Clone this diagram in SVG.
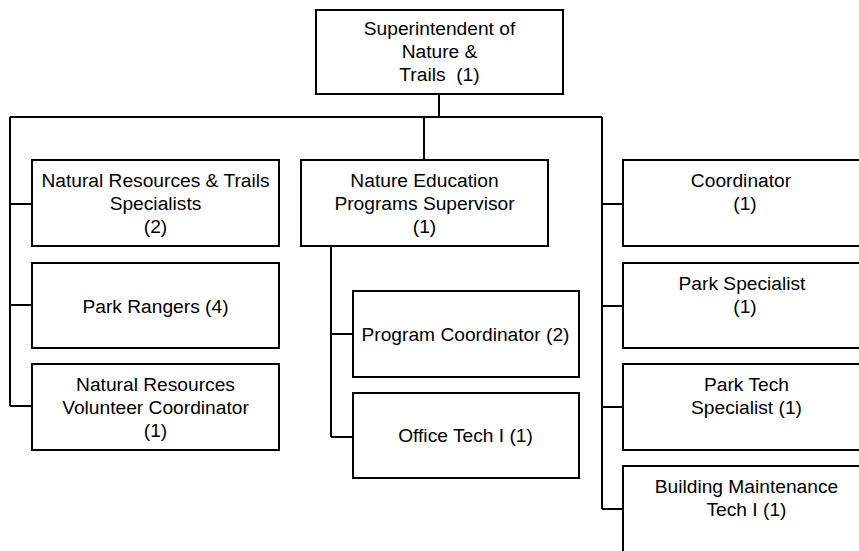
<svg xmlns="http://www.w3.org/2000/svg" width="859" height="551" viewBox="0 0 859 551">
<style>
rect{fill:#fff;stroke:#000;stroke-width:2}
#connectors path{fill:none;stroke:#000;stroke-width:2}
text{font-family:"Liberation Sans",Arial,sans-serif;font-size:19.2px;fill:#000;text-anchor:middle}
</style>
<rect x="0" y="0" width="859" height="551" style="stroke:none"/>
<g id="connectors">
<path d="M439 94V117M10 117H602M424 117V160"/>
<path d="M10 117V406M10 204H32M10 305H32M10 406H32"/>
<path d="M602 117V509M602 204H623M602 306H623M602 407H623M602 509H623"/>
<path d="M331 246V437M331 334H353M331 437H353"/>
</g>
<g id="superintendent"><rect x="316" y="10" width="247" height="84"/>
<text x="439.5" y="35">Superintendent of</text><text x="439.5" y="58">Nature &amp;</text><text x="439.5" y="81">Trails&#160; (1)</text></g>
<g id="nr-specialists"><rect x="32" y="160" width="247" height="86"/>
<text x="155.5" y="187">Natural Resources &amp; Trails</text><text x="155.5" y="210">Specialists</text><text x="155.5" y="233">(2)</text></g>
<g id="park-rangers"><rect x="32" y="263" width="247" height="85"/>
<text x="155.5" y="313">Park Rangers (4)</text></g>
<g id="nr-volunteer"><rect x="32" y="364" width="247" height="86"/>
<text x="155.5" y="391">Natural Resources</text><text x="155.5" y="414">Volunteer Coordinator</text><text x="155.5" y="437">(1)</text></g>
<g id="nature-ed"><rect x="301" y="160" width="247" height="86"/>
<text x="424.5" y="187">Nature Education</text><text x="424.5" y="210">Programs Supervisor</text><text x="424.5" y="233">(1)</text></g>
<g id="program-coord"><rect x="353" y="291" width="226" height="86"/>
<text x="465.5" y="341">Program Coordinator (2)</text></g>
<g id="office-tech"><rect x="353" y="393" width="226" height="85"/>
<text x="465.5" y="442">Office Tech I (1)</text></g>
<g id="coordinator"><rect x="623" y="160" width="247" height="86"/>
<text x="741" y="187">Coordinator</text><text x="745" y="210">(1)</text></g>
<g id="park-specialist"><rect x="623" y="263" width="247" height="85"/>
<text x="742" y="290">Park Specialist</text><text x="745" y="313">(1)</text></g>
<g id="park-tech"><rect x="623" y="364" width="247" height="86"/>
<text x="746.5" y="391">Park Tech</text><text x="746.5" y="414">Specialist (1)</text></g>
<g id="building-maint"><rect x="623" y="466" width="247" height="90"/>
<text x="746.5" y="493">Building Maintenance</text><text x="746.5" y="516">Tech I (1)</text></g>
</svg>
